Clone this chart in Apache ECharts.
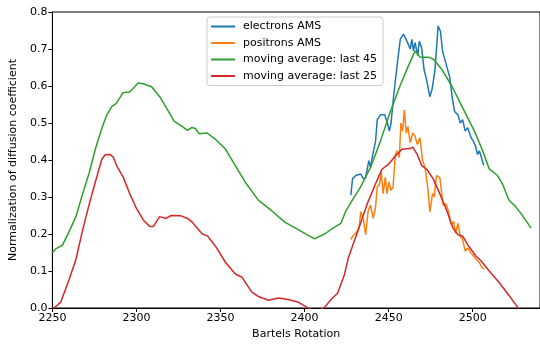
<!DOCTYPE html>
<html>
<head>
<meta charset="utf-8">
<script src="https://cdn.jsdelivr.net/npm/echarts@6/dist/echarts.min.js"></script>
<style>
html,body{margin:0;padding:0;background:#fff;}
#chart{width:540px;height:345px;}
</style>
</head>
<body>
<div id="chart"></div>
<script>
// ---- data ----
var seriesNames = ["electrons AMS", "positrons AMS", "moving average: last 45", "moving average: last 25"];
var xTicks = [2250, 2300, 2350, 2400, 2450, 2500];
var yTicks = [0.0, 0.1, 0.2, 0.3, 0.4, 0.5, 0.6, 0.7, 0.8];

var electronsX = [2427.5,2428.5,2430.4,2433.4,2435,2436.3,2438.2,2439.2,2440.2,2442.2,2443.2,2445.1,2447.6,2449,2450.4,2451.4,2453,2455,2456.9,2458.8,2460.4,2461.4,2462.8,2463.8,2464.7,2465.7,2467.3,2468.2,2469.6,2471,2472.6,2474.5,2475.9,2477.5,2478.8,2479.4,2480.8,2482,2482.8,2484.4,2486.3,2487.9,2489.2,2491.2,2492.6,2494,2495.5,2497,2499,2500.4,2501.6,2502.9,2503.9,2504.9,2506.5];
var electronsY = [0.305,0.349,0.358,0.362,0.349,0.353,0.398,0.380,0.407,0.451,0.509,0.522,0.522,0.504,0.478,0.500,0.575,0.655,0.726,0.740,0.726,0.731,0.700,0.726,0.695,0.717,0.682,0.721,0.704,0.646,0.615,0.571,0.593,0.642,0.722,0.762,0.748,0.695,0.691,0.655,0.624,0.566,0.531,0.522,0.500,0.509,0.478,0.487,0.460,0.451,0.438,0.415,0.425,0.411,0.385];

var positronsX = [2427.5,2428.5,2430.4,2432.4,2433.4,2435,2436.3,2437.7,2439.2,2440.8,2442.2,2443.2,2444.7,2445.5,2446.7,2448,2449,2450.2,2451.4,2452.6,2454,2455,2456.3,2457.3,2458.3,2459.3,2460.4,2461.4,2462.8,2464.3,2465.7,2467,2468.6,2470.2,2471.6,2473.2,2474.5,2476.1,2477,2478.5,2480.4,2482.4,2484,2485.3,2487.3,2488.6,2489.8,2491.2,2492.6,2494,2495.5,2497,2499,2502,2503.9,2505.5,2506.9];
var positronsY = [0.185,0.194,0.202,0.216,0.260,0.238,0.198,0.260,0.278,0.242,0.273,0.327,0.336,0.371,0.309,0.353,0.309,0.340,0.318,0.327,0.415,0.425,0.407,0.500,0.478,0.535,0.473,0.491,0.447,0.473,0.464,0.442,0.460,0.398,0.380,0.327,0.260,0.309,0.300,0.358,0.353,0.278,0.282,0.265,0.225,0.234,0.202,0.229,0.194,0.185,0.154,0.162,0.149,0.132,0.123,0.109,0.105];

var avg45X = [2250,2252,2256,2260,2264,2268,2272,2275.5,2279.5,2282.4,2285.3,2288,2292,2296,2301,2304,2309,2313.8,2318.6,2322.6,2326.5,2330.4,2333,2335,2337.3,2342,2347,2353,2358.8,2364.7,2372.6,2380.4,2388.2,2398,2405.9,2411.8,2417.6,2421.6,2424.5,2427.5,2433.4,2439.2,2445.1,2451,2456.9,2461.8,2465.7,2468.6,2473.5,2476.5,2481.4,2487.3,2494.1,2501,2505.9,2509.8,2514.7,2517.6,2521.6,2525.5,2529.4,2534.7];
var avg45Y = [0.149,0.160,0.170,0.207,0.247,0.309,0.367,0.429,0.487,0.522,0.544,0.553,0.582,0.584,0.608,0.606,0.598,0.571,0.535,0.504,0.493,0.480,0.488,0.485,0.471,0.473,0.456,0.429,0.385,0.340,0.291,0.263,0.232,0.207,0.187,0.200,0.218,0.229,0.262,0.285,0.328,0.380,0.451,0.531,0.602,0.655,0.695,0.678,0.678,0.673,0.646,0.602,0.540,0.478,0.425,0.376,0.358,0.336,0.291,0.274,0.251,0.216];

var avg25X = [2251,2255,2260,2264,2268,2272,2275.5,2279.4,2281.4,2284.4,2286.3,2288.2,2292.2,2296,2300,2304,2308,2310,2313.8,2317.6,2320.6,2326.5,2330.4,2333,2335.3,2339.2,2342.2,2347,2353,2358.8,2362.8,2368.6,2372.6,2378.5,2384.4,2390.2,2396.1,2401,2406,2411.8,2415.7,2419.6,2423.5,2426,2431.4,2437.3,2442.2,2446,2450,2454,2457.9,2462.8,2464.3,2467,2469.6,2472.6,2476.5,2480.4,2484.4,2488.2,2491.2,2494,2497,2502,2505,2509.8,2515.7,2521.6,2526.5,2530];
var avg25Y = [0.000,0.016,0.078,0.131,0.211,0.282,0.340,0.402,0.414,0.415,0.407,0.385,0.353,0.309,0.269,0.238,0.220,0.220,0.247,0.242,0.250,0.249,0.242,0.233,0.220,0.200,0.195,0.167,0.123,0.092,0.083,0.043,0.031,0.021,0.027,0.023,0.016,0.003,-0.010,0.001,0.023,0.040,0.087,0.135,0.205,0.282,0.336,0.375,0.389,0.411,0.429,0.431,0.435,0.415,0.385,0.375,0.349,0.309,0.265,0.216,0.198,0.194,0.171,0.140,0.127,0.100,0.069,0.034,0.003,-0.020];

var colors = ["#1f77b4", "#ff7f0e", "#2ca02c", "#d62728"];

function pairs(xs, ys) {
  var out = [];
  for (var i = 0; i < xs.length; i++) out.push([xs[i], ys[i]]);
  return out;
}

var FONT = "DejaVu Sans";
var chart = echarts.init(document.getElementById('chart'), null, {renderer: 'canvas'});

function lineSeries(name, data, color, z) {
  return {
    name: name, type: 'line', data: data, showSymbol: false, symbol: 'none',
    lineStyle: {color: color, width: 1.5}, itemStyle: {color: color},
    clip: true, z: z, animation: false
  };
}

chart.setOption({
  animation: false,
  color: colors,
  grid: {left: 48, right: -2, top: 12, bottom: 32, show: true, borderColor: '#000', borderWidth: 1, backgroundColor: 'transparent'},
  legend: {
    data: seriesNames,
    orient: 'vertical', left: 207, top: 17,
    icon: 'rect', itemWidth: 24, itemHeight: 2, itemGap: 3.5,
    padding: [3, 6, 3, 4],
    borderColor: '#cccccc', borderWidth: 1, borderRadius: 3, backgroundColor: '#fff',
    textStyle: {fontFamily: FONT, fontSize: 11, color: '#000', padding: [0, 0, 0, 3], lineHeight: 13}
  },
  xAxis: {
    type: 'value', min: xTicks[0], max: 2540, interval: 50,
    name: 'Bartels Rotation', nameLocation: 'middle', nameGap: 21,
    nameTextStyle: {fontFamily: FONT, fontSize: 11, color: '#000'},
    axisLine: {show: true, lineStyle: {color: '#000', width: 1}},
    axisTick: {show: true, inside: false, length: 4, lineStyle: {color: '#000'}},
    axisLabel: {fontFamily: FONT, fontSize: 11, color: '#000', margin: 5, showMaxLabel: false,
      formatter: function (v) { return xTicks.indexOf(v) >= 0 ? String(v) : ''; }},
    splitLine: {show: false}
  },
  yAxis: {
    type: 'value', min: yTicks[0], max: yTicks[yTicks.length - 1], interval: 0.1,
    name: 'Normalization of diffusion coefficient', nameLocation: 'middle', nameGap: 30,
    nameTextStyle: {fontFamily: FONT, fontSize: 11, color: '#000'},
    axisLine: {show: true, lineStyle: {color: '#000', width: 1}},
    axisTick: {show: true, inside: false, length: 4, lineStyle: {color: '#000'}},
    axisLabel: {fontFamily: FONT, fontSize: 11, color: '#000', margin: 5,
      formatter: function (v) { return v.toFixed(1); }},
    splitLine: {show: false}
  },
  series: [
    lineSeries(seriesNames[0], pairs(electronsX, electronsY), colors[0], 2),
    lineSeries(seriesNames[1], pairs(positronsX, positronsY), colors[1], 3),
    lineSeries(seriesNames[2], pairs(avg45X, avg45Y), colors[2], 4),
    lineSeries(seriesNames[3], pairs(avg25X, avg25Y), colors[3], 5)
  ]
});
</script>
</body>
</html>
